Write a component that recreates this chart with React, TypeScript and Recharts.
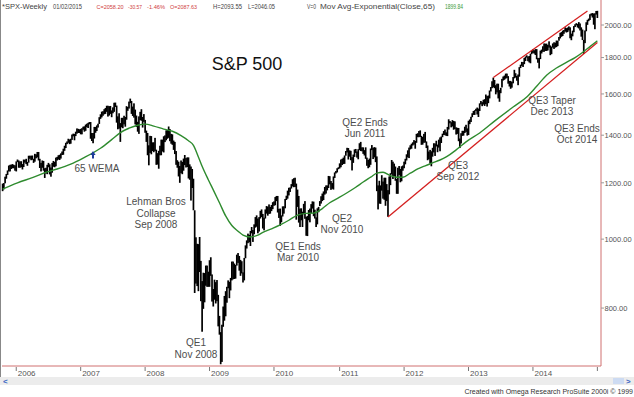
import React from 'react';
import { ComposedChart, Bar, Line, XAxis, YAxis, ReferenceLine } from 'recharts';

// Weekly S&P 500 ranges [low, high], week ending Fridays starting 2005-10-21
const bars2005 = [[1168,1197],[1175,1199],[1198,1224],[1216,1235],[1231,1249],[1245,1269],[1245,1272],[1255,1273],[1258,1275],[1258,1272],[1248,1270]];
const bars2006 = [[1245,1286],[1283,1294],[1260,1290],[1260,1286],[1262,1287],[1253,1275],[1263,1294],[1281,1293],[1275,1297],[1268,1284],
[1281,1310],[1297,1310],[1291,1310],[1293,1311],[1280,1297],[1285,1318],[1299,1316],[1303,1326],[1290,1326],[1259,1297],
[1245,1280],[1260,1290],[1248,1288],[1219,1258],[1237,1260],[1234,1272],[1262,1280],[1233,1274],[1224,1261],[1240,1280],
[1264,1288],[1262,1284],[1266,1302],[1290,1305],[1294,1312],[1292,1314],[1298,1320],[1313,1328],[1314,1340],[1331,1353],
[1343,1366],[1360,1372],[1366,1384],[1360,1381],[1362,1384],[1379,1403],[1395,1407],[1377,1406],[1396,1416],[1407,1431],
[1410,1429],[1410,1427]];
const bars2007 = [[1404,1429],[1404,1432],[1425,1439],[1416,1441],[1420,1449],[1437,1453],[1433,1457],[1450,1461],[1384,1461],[1374,1410],
[1364,1410],[1385,1438],[1411,1438],[1419,1445],[1435,1453],[1452,1484],[1476,1498],[1483,1511],[1491,1513],[1498,1523],
[1500,1529],[1510,1540],[1487,1540],[1492,1538],[1500,1539],[1484,1517],[1503,1532],[1510,1555],[1534,1556],[1458,1541],
[1427,1488],[1430,1503],[1370,1456],[1436,1481],[1432,1481],[1450,1491],[1439,1485],[1472,1538],[1515,1534],[1526,1561],
[1553,1576],[1500,1564],[1490,1536],[1482,1552],[1450,1521],[1438,1492],[1416,1462],[1406,1488],[1470,1510],[1467,1523],
[1435,1485],[1462,1499]];
const bars2008 = [[1411,1471],[1370,1421],[1312,1410],[1270,1355],[1322,1397],[1316,1396],[1330,1368],[1325,1368],[1330,1388],[1272,1336],
[1273,1321],[1256,1331],[1312,1353],[1312,1380],[1328,1380],[1324,1395],[1369,1399],[1377,1422],[1384,1424],[1388,1440],
[1373,1428],[1362,1406],[1357,1404],[1335,1376],[1317,1370],[1272,1330],[1260,1291],[1225,1285],[1200,1267],[1238,1290],
[1234,1284],[1248,1298],[1271,1313],[1261,1300],[1263,1303],[1217,1303],[1212,1274],[1133,1265],[1180,1255],[1098,1216],
[840,1098],[866,1006],[859,985],[845,984],[899,1007],[818,932],[741,873],[798,897],[815,896],[860,918],
[857,918],[857,900]];
const bars2009 = [[857,934],[888,943],[817,892],[804,851],[822,877],[812,870],[818,876],[754,835],[734,780],[667,740],
[672,758],[753,804],[768,832],[779,845],[814,857],[853,875],[826,871],[847,882],[875,930],[878,930],
[879,924],[880,920],[918,951],[926,956],[903,947],[888,935],[895,931],[869,898],[875,941],[940,980],
[970,996],[987,1018],[990,1014],[978,1027],[1019,1040],[991,1030],[1016,1049],[1038,1074],[1041,1080],[1019,1069],
[1025,1074],[1069,1096],[1074,1101],[1035,1085],[1029,1072],[1069,1101],[1086,1113],[1079,1111],[1085,1119],[1086,1110],
[1095,1117],[1102,1127]];
const bars2010 = [[1114,1130],[1116,1146],[1131,1150],[1090,1150],[1071,1103],[1044,1104],[1056,1080],[1076,1112],[1086,1112],[1105,1139],
[1135,1151],[1140,1170],[1152,1181],[1165,1182],[1178,1195],[1186,1214],[1183,1218],[1184,1220],[1065,1197],[1110,1174],
[1055,1150],[1040,1104],[1063,1105],[1040,1093],[1084,1121],[1068,1131],[1011,1075],[1010,1078],[1063,1099],[1056,1104],
[1088,1120],[1104,1130],[1077,1129],[1069,1100],[1040,1073],[1049,1105],[1091,1110],[1113,1131],[1122,1149],[1131,1159],
[1135,1167],[1155,1184],[1159,1190],[1171,1190],[1180,1227],[1194,1226],[1173,1207],[1177,1199],[1174,1225],[1219,1241],
[1237,1247],[1241,1258],[1254,1262]];
const bars2011 = [[1257,1278],[1262,1294],[1271,1297],[1275,1302],[1276,1311],[1310,1330],[1324,1344],[1294,1343],[1306,1333],[1291,1331],
[1249,1304],[1280,1315],[1305,1337],[1322,1339],[1302,1328],[1295,1338],[1334,1364],[1330,1370],[1329,1346],[1318,1346],
[1311,1334],[1297,1346],[1268,1302],[1258,1292],[1262,1298],[1272,1341],[1334,1356],[1296,1344],[1303,1347],[1283,1345],
[1168,1307],[1101,1190],[1122,1208],[1121,1190],[1170,1230],[1140,1205],[1136,1220],[1114,1220],[1131,1195],[1075,1172],
[1156,1225],[1191,1238],[1233,1292],[1215,1285],[1226,1277],[1208,1265],[1158,1215],[1158,1260],[1231,1267],[1202,1255],
[1206,1266],[1248,1269]];
const bars2012 = [[1258,1285],[1274,1297],[1290,1316],[1303,1333],[1300,1345],[1337,1355],[1340,1362],[1354,1368],[1358,1378],[1340,1374],
[1366,1406],[1391,1409],[1391,1419],[1392,1422],[1357,1397],[1358,1392],[1366,1406],[1367,1415],[1343,1372],[1291,1354],
[1295,1328],[1277,1335],[1266,1329],[1306,1344],[1324,1364],[1309,1363],[1350,1375],[1325,1358],[1345,1380],[1329,1390],
[1365,1394],[1391,1407],[1401,1419],[1400,1426],[1397,1413],[1396,1438],[1426,1474],[1455,1466],[1436,1460],[1440,1470],
[1425,1466],[1428,1464],[1403,1436],[1406,1434],[1373,1433],[1343,1385],[1363,1409],[1397,1420],[1398,1420],[1410,1439],
[1415,1448],[1398,1431]];
const bars2013 = [[1401,1467],[1451,1473],[1461,1486],[1484,1503],[1495,1514],[1495,1518],[1514,1525],[1497,1531],[1485,1526],[1514,1552],
[1547,1564],[1538,1558],[1546,1570],[1539,1573],[1548,1597],[1536,1589],[1553,1592],[1577,1618],[1613,1636],[1630,1667],
[1635,1687],[1630,1674],[1598,1646],[1608,1654],[1577,1654],[1560,1620],[1604,1632],[1634,1680],[1671,1693],[1675,1698],
[1681,1709],[1685,1709],[1654,1695],[1639,1669],[1627,1669],[1633,1664],[1656,1690],[1683,1730],[1687,1711],[1670,1696],
[1646,1704],[1692,1745],[1740,1759],[1752,1775],[1746,1774],[1762,1798],[1780,1806],[1800,1813],[1779,1806],[1772,1809],
[1767,1823],[1820,1844]];
const bars2014 = [[1827,1849],[1823,1843],[1815,1850],[1790,1850],[1770,1798],[1738,1798],[1791,1841],[1824,1847],[1834,1867],[1834,1884],
[1839,1883],[1839,1883],[1842,1875],[1859,1897],[1814,1872],[1820,1865],[1859,1884],[1851,1891],[1859,1889],[1862,1902],
[1868,1901],[1901,1924],[1915,1950],[1925,1955],[1930,1964],[1944,1968],[1958,1985],[1952,1980],[1955,1984],[1965,1991],
[1916,1985],[1904,1945],[1928,1964],[1954,1993],[1987,2005],[1998,2012],[1984,2007],[1978,2019],[1965,2010],[1926,1985],
[1905,1971],[1821,1906],[1886,1965],[1960,2018],[2001,2034],[2025,2042],[2033,2071],[2062,2076],[2049,2079],[2002,2076],
[1973,2077],[2069,2093]];
const bars2015 = [[2046,2094]];

// 65-week EMA: [week index, value]
const emaWeeks = [0,12,24,36,44,55,65,79,88,95,102,109,115,122,130,137,144,150,154,158,161,166,170,175,180,185,190,194,200,206,210,217,224,231,238,245,251,258,264,271,278,285,291,297,302,307,313,318,323,329,335,341,347,353,358,366,374,385,398,412,423,431,439,447,455,462,468,474,480];
const emaValues = [1176,1200,1220,1243,1255,1275,1300,1342,1380,1412,1432,1446,1451,1442,1428,1418,1398,1375,1355,1305,1266,1212,1173,1125,1078,1045,1026,1013,1007,1013,1022,1034,1047,1063,1081,1087,1088,1104,1125,1143,1162,1183,1203,1222,1238,1242,1228,1222,1222,1238,1255,1268,1280,1292,1305,1335,1370,1410,1470,1534,1584,1640,1700,1740,1772,1800,1830,1865,1900];

const startDateUTC = Date.UTC(2005, 9, 21);
const priceTicks = [800, 1000, 1200, 1400, 1600, 1800, 2000];
const yearLabels = ['2006', '2007', '2008', '2009', '2010', '2011', '2012', '2013', '2014', '2015'];
const shownYearLabels = ['2006', '2007', '2008', '2009', '2010', '2011', '2012', '2013', '2014'];

// trend channel anchors [week index, price]
const lowerTrend = [[311, 1074], [480, 1890]];
const upperTrend = [[396, 1687], [472, 2093]];

// header strip: text, colour, left x, width, font size
const headerItems: [string, string, number, number, number][] = [
  ['*SPX-Weekly', '#444', 2, 45, 7.5],
  ['01/02/2015', '#444', 53, 29, 7],
  ['C=2058.20', '#d04040', 96.5, 27, 6.2],
  ['-30.57', '#d04040', 128, 14, 6.2],
  ['-1.46%', '#d04040', 147, 18, 6.2],
  ['O=2087.63', '#d04040', 170, 27, 6.2],
  ['H=2093.55', '#444', 213, 29, 6.5],
  ['L=2046.05', '#444', 248, 27, 6.5],
  ['V=0', '#444', 307, 9, 7],
  ['Mov Avg-Exponential(Close,65)', '#444', 320, 115, 7.5],
  ['1899.84', '#3a9a3a', 445, 18, 6.5],
];

const annotations = [
  { lines: ['65 WEMA'], x: 97, y: 171.5 },
  { lines: ['Lehman Bros', 'Collapse', 'Sep 2008'], x: 156, y: 205 },
  { lines: ['QE1', 'Nov 2008'], x: 196, y: 346 },
  { lines: ['QE1 Ends', 'Mar 2010'], x: 298, y: 249.5 },
  { lines: ['QE2', 'Nov 2010'], x: 342, y: 221.5 },
  { lines: ['QE2 Ends', 'Jun 2011'], x: 365, y: 125.5 },
  { lines: ['QE3', 'Sep 2012'], x: 458, y: 168.5 },
  { lines: ['QE3 Taper', 'Dec 2013'], x: 552, y: 103.5 },
  { lines: ['QE3 Ends', 'Oct 2014'], x: 577, y: 131.5 },
];

const weeklyRanges = [...bars2005, ...bars2006, ...bars2007, ...bars2008, ...bars2009, ...bars2010, ...bars2011, ...bars2012, ...bars2013, ...bars2014, ...bars2015];
const emaByWeek: Record<number, number> = {};
emaWeeks.forEach((w, k) => { emaByWeek[w] = emaValues[k]; });

const data = weeklyRanges.map((r, i) => ({
  i,
  year: new Date(startDateUTC + i * 7 * 86400000).getUTCFullYear(),
  range: r,
  ema: emaByWeek[i] !== undefined ? emaByWeek[i] : null,
}));

const yearTickIndex: number[] = [];
const labelForIndex: Record<number, string> = {};
yearLabels.forEach((y) => {
  const row = data.find((d) => String(d.year) === y);
  if (row) {
    yearTickIndex.push(row.i);
    labelForIndex[row.i] = shownYearLabels.includes(y) ? y : '';
  }
});

const FONT = '"Liberation Sans", Arial, Helvetica, sans-serif';

const BarShape = (props: any) => {
  const { x, y, width, height } = props;
  if (x == null || y == null || isNaN(y)) return null;
  const top = Math.min(y, y + height);
  const h = Math.max(Math.abs(height), 1);
  return <rect x={x + width / 2 - 0.85} y={top} width={1.7} height={h} fill="#000" />;
};

const YearTick = (props: any) => {
  const { x, y, payload } = props;
  const label = labelForIndex[payload.value] || '';
  return (
    <g>
      <line x1={x} y1={y + 1} x2={x} y2={y + 5} stroke="#777" strokeWidth={1} />
      {label ? (
        <text x={x + 1.5} y={y + 10} fontSize={8} fill="#555" fontFamily={FONT}>{label}</text>
      ) : null}
    </g>
  );
};

const PriceTick = (props: any) => {
  const { x, y, payload } = props;
  return (
    <g>
      <line x1={x} y1={y} x2={x + 3} y2={y} stroke="#999" strokeWidth={1} />
      <text x={x + 3.5} y={y + 2.7} fontSize={7.5} fill="#555" fontFamily={FONT}>{Number(payload.value).toFixed(2)}</text>
    </g>
  );
};

export default function App() {
  return (
    <div style={{ position: 'fixed', left: 0, top: 0, width: 634, height: 397, background: '#fff', fontFamily: FONT }}>
      <ComposedChart width={634} height={397} data={data} margin={{ top: 2, right: 0, bottom: 19, left: 2 }}>
        <XAxis
          dataKey="i"
          type="category"
          ticks={yearTickIndex}
          interval={0}
          tick={<YearTick />}
          tickSize={0}
          tickMargin={0}
          height={12}
          padding={{ left: 0, right: 3 }}
          axisLine={{ stroke: '#d07070', strokeWidth: 1 }}
          tickLine={false}
        />
        <YAxis
          orientation="right"
          type="number"
          scale="log"
          domain={[663.2, 2154.7]}
          allowDataOverflow
          ticks={priceTicks}
          interval={0}
          width={33}
          tick={<PriceTick />}
          tickSize={0}
          tickMargin={0}
          axisLine={{ stroke: '#d07070', strokeWidth: 1 }}
          tickLine={false}
        />
        <Bar dataKey="range" isAnimationActive={false} shape={<BarShape />} />
        <Line
          dataKey="ema"
          type="monotone"
          connectNulls
          dot={false}
          stroke="#2e8b2e"
          strokeWidth={1.4}
          isAnimationActive={false}
        />
        <ReferenceLine
          segment={[{ x: lowerTrend[0][0], y: lowerTrend[0][1] }, { x: lowerTrend[1][0], y: lowerTrend[1][1] }]}
          stroke="#d42020"
          strokeWidth={1.3}
          ifOverflow="visible"
        />
        <ReferenceLine
          segment={[{ x: upperTrend[0][0], y: upperTrend[0][1] }, { x: upperTrend[1][0], y: upperTrend[1][1] }]}
          stroke="#d42020"
          strokeWidth={1.3}
          ifOverflow="visible"
        />
      </ComposedChart>
      <svg width={634} height={397} style={{ position: 'absolute', left: 0, top: 0, pointerEvents: 'none' }}>
        <line x1={0.5} y1={0} x2={0.5} y2={377} stroke="#888" strokeWidth={1} />
        <line x1={601} y1={0} x2={601} y2={2} stroke="#d07070" strokeWidth={1} />
        <g fontFamily={FONT}>
          {headerItems.map(([t, c, x, w, fs], k) => (
            <text key={k} x={x} y={9} fill={c} fontSize={fs} textLength={w} lengthAdjust="spacingAndGlyphs">{t}</text>
          ))}
        </g>
        <text x={247} y={70} textAnchor="middle" fontFamily={FONT} fontSize={18} fill="#111">S&amp;P 500</text>
        <path d="M93,151 L95.6,155 L94,155 L94,158.5 L92,158.5 L92,155 L90.4,155 Z" fill="#1f3c9c" />
        <g fontFamily={FONT} fontSize={10} fill="#4d4d4d" textAnchor="middle">
          {annotations.map((a, k) => (
            <text key={k} x={a.x} y={a.y}>
              {a.lines.map((l, j) => (
                <tspan key={j} x={a.x} dy={j === 0 ? 0 : 11.5}>{l}</tspan>
              ))}
            </text>
          ))}
        </g>
        <rect x={0} y={377} width={634} height={8} fill="#ececec" />
        <text x={3} y={384} fontFamily={FONT} fontSize={8} fontWeight="bold" fill="#3a66c4">&lt;</text>
        <rect x={613} y={378} width={11} height={6} fill="#cddbf2" />
        <text x={626} y={384} fontFamily={FONT} fontSize={8} fontWeight="bold" fill="#3a66c4">&gt;</text>
        <text x={633} y={393.5} textAnchor="end" fontFamily={FONT} fontSize={7} fill="#333">Created with Omega Research ProSuite 2000i © 1999</text>
      </svg>
    </div>
  );
}
